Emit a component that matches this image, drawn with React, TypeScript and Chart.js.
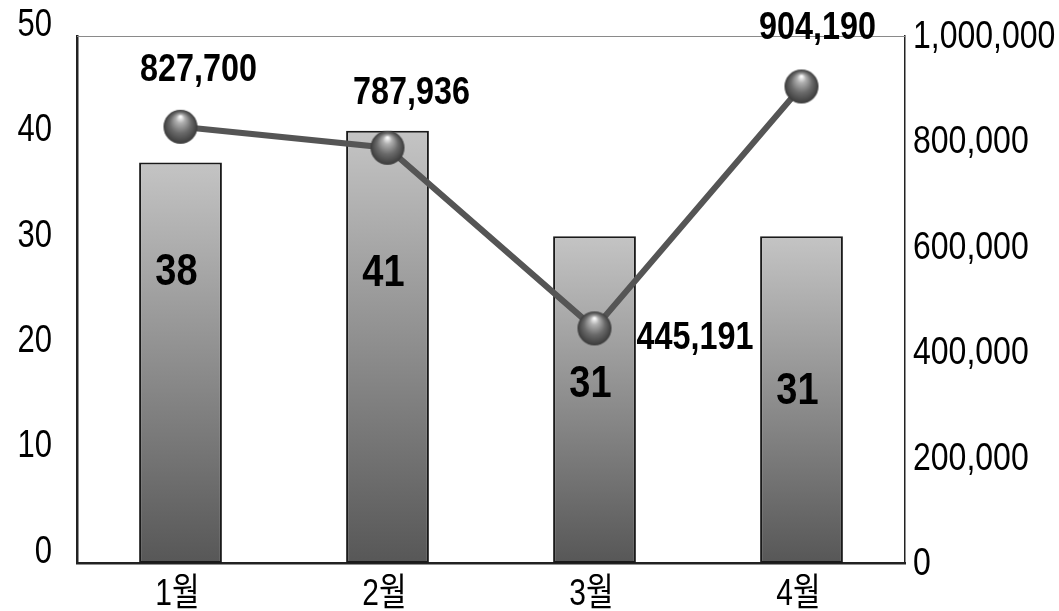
import React, { useEffect, useRef } from "react";
import { Chart, registerables } from "chart.js";

Chart.register(...registerables);

const categories = ["1월", "2월", "3월", "4월"];
const counts = [38, 41, 31, 31];
const amounts = [827700, 787936, 445191, 904190];
const leftMax = 50;
const leftStep = 10;
const rightMax = 1000000;
const rightStep = 200000;

// label placement styles (pixel offsets relative to marks)
const lineLabelDx = [18, 24, 42, 16];
const lineLabelDy = [-59, -57, 7, -61];
const lineLabelAlign: CanvasTextAlign[] = ["center", "center", "left", "center"];
const barLabelDy = [107, 139, 145, 152];

const NUM_FONT = '"Liberation Sans", "Noto Sans CJK KR", sans-serif';

function drawText(
  ctx: CanvasRenderingContext2D,
  text: string,
  x: number,
  cy: number,
  align: CanvasTextAlign,
  size: number,
  bold: boolean,
  sx: number,
  sy: number
) {
  ctx.save();
  ctx.font = `${bold ? "bold " : ""}${size}px ${NUM_FONT}`;
  ctx.textAlign = align;
  ctx.textBaseline = "alphabetic";
  const capH = 0.716 * size * sy;
  ctx.translate(x, cy + capH / 2);
  ctx.scale(sx, sy);
  ctx.fillStyle = "#000";
  ctx.fillText(text, 0, 0);
  ctx.restore();
}

function makeSphere(r: number): HTMLCanvasElement {
  const c = document.createElement("canvas");
  const s = r * 2 + 4;
  c.width = s;
  c.height = s;
  const ctx = c.getContext("2d")!;
  const cx = s / 2;
  const cy = s / 2;
  const g = ctx.createRadialGradient(cx, cy - r * 0.6, r * 0.05, cx, cy, r);
  g.addColorStop(0, "#f8f8f8");
  g.addColorStop(0.22, "#b0b0b0");
  g.addColorStop(0.6, "#6a6a6a");
  g.addColorStop(1, "#3a3a3a");
  ctx.fillStyle = g;
  ctx.beginPath();
  ctx.arc(cx, cy, r, 0, Math.PI * 2);
  ctx.fill();
  return c;
}

const labelPlugin = {
  id: "customLabels",
  afterDatasetsDraw(chart: any) {
    const ctx = chart.ctx as CanvasRenderingContext2D;
    const area = chart.chartArea;
    ctx.save();
    // top border
    ctx.strokeStyle = "#8a8a8a";
    ctx.lineWidth = 1;
    ctx.beginPath();
    ctx.moveTo(area.left, area.top + 0.5);
    ctx.lineTo(area.right, area.top + 0.5);
    ctx.stroke();
    ctx.restore();

    // axis tick labels, positioned by the library's scales
    const yL = chart.scales.y;
    yL.ticks.forEach((t: any) => {
      const py = yL.getPixelForValue(t.value);
      drawText(ctx, String(t.value), area.left - 25, py - 14, "right", 31, false, 1, 1.25);
    });
    const yR = chart.scales.y1;
    yR.ticks.forEach((t: any) => {
      const py = yR.getPixelForValue(t.value);
      drawText(ctx, Number(t.value).toLocaleString("en-US"), area.right + 8, py - 2, "left", 32, false, 1, 1.22);
    });
    const xs = chart.scales.x;
    xs.ticks.forEach((t: any, i: number) => {
      const px = xs.getPixelForTick(i);
      drawText(ctx, String(xs.getLabelForValue(t.value)), px - 3, area.bottom + 29, "center", 30, false, 1, 1.25);
    });

    // bar labels
    const barMeta = chart.getDatasetMeta(1);
    barMeta.data.forEach((el: any, i: number) => {
      drawText(ctx, String(counts[i]), el.x - 4, el.y + barLabelDy[i], "center", 38, true, 1, 1.15);
    });
    // line labels
    const lineMeta = chart.getDatasetMeta(0);
    lineMeta.data.forEach((el: any, i: number) => {
      drawText(
        ctx,
        amounts[i].toLocaleString("en-US"),
        el.x + lineLabelDx[i],
        el.y + lineLabelDy[i],
        lineLabelAlign[i],
        33,
        true,
        0.98,
        1.15
      );
    });
  },
};

export default function App() {
  const ref = useRef<HTMLCanvasElement>(null);

  useEffect(() => {
    document.body.style.margin = "0";
    const sphere = makeSphere(17);
    const chart = new Chart(ref.current!, {
      type: "bar",
      data: {
        labels: categories,
        datasets: [
          {
            type: "line",
            data: amounts,
            yAxisID: "y1",
            borderColor: "#555555",
            borderWidth: 6,
            pointStyle: sphere as any,
            pointRadius: 17,
            tension: 0,
            order: 0,
          } as any,
          {
            type: "bar",
            data: counts,
            yAxisID: "y",
            borderColor: "#1a1a1a",
            borderWidth: 2,
            borderSkipped: false,
            categoryPercentage: 1,
            barPercentage: 0.4,
            order: 1,
            backgroundColor: (c: any) => {
              const chart = c.chart;
              if (!chart.chartArea || c.dataIndex === undefined) return "#999";
              const y = chart.scales.y;
              const top = y.getPixelForValue(counts[c.dataIndex]);
              const bottom = y.getPixelForValue(0);
              const g = chart.ctx.createLinearGradient(0, top, 0, bottom);
              g.addColorStop(0, "#c4c4c4");
              g.addColorStop(1, "#575757");
              return g;
            },
          } as any,
        ],
      },
      options: {
        animation: false,
        responsive: false,
        maintainAspectRatio: false,
        layout: { padding: { top: 36, left: 0, right: 0, bottom: 0 } },
        plugins: {
          legend: { display: false },
          tooltip: { enabled: false },
        },
        scales: {
          x: {
            grid: { display: false, drawTicks: false },
            border: { display: true, color: "#222", width: 2.5 },
            ticks: { display: false },
            afterFit: (s: any) => {
              s.height = 48;
            },
          },
          y: {
            position: "left",
            min: 0,
            max: leftMax,
            grid: { display: false, drawTicks: false },
            border: { display: true, color: "#222", width: 2.5 },
            ticks: { display: false, stepSize: leftStep },
            afterFit: (s: any) => {
              s.width = 77;
            },
          },
          y1: {
            position: "right",
            min: 0,
            max: rightMax,
            grid: { display: false, drawTicks: false },
            border: { display: true, color: "#222", width: 1.5 },
            ticks: { display: false, stepSize: rightStep },
            afterFit: (s: any) => {
              s.width = 154;
            },
          },
        },
      },
      plugins: [labelPlugin],
    });
    return () => chart.destroy();
  }, []);

  return (
    <div style={{ width: 1059, height: 611 }}>
      <canvas ref={ref} width={1059} height={611} style={{ display: "block" }} />
    </div>
  );
}
